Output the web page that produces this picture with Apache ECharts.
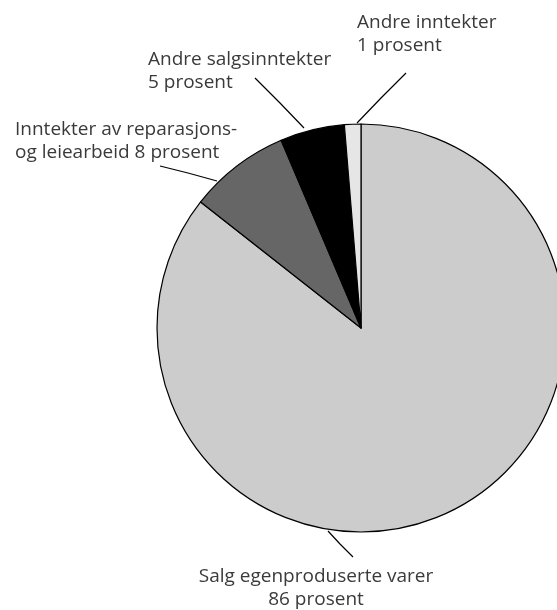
<!DOCTYPE html>
<html>
<head>
<meta charset="utf-8">
<script src="https://cdn.jsdelivr.net/npm/echarts@6/dist/echarts.min.js"></script>
<style>
html,body{margin:0;padding:0;background:#fff;}
#chart{width:557px;height:610px;}
</style>
</head>
<body>
<div id="chart"></div>
<script>
// Data (clockwise from 12 o'clock)
const categories = [
  'Salg egenproduserte varer\n86 prosent',
  'Inntekter av reparasjons-\nog leiearbeid 8 prosent',
  'Andre salgsinntekter\n5 prosent',
  'Andre inntekter\n1 prosent'
];
const values = [85.6, 8.0, 5.1, 1.3];
const colors = ['#cccccc', '#666666', '#000000', '#e6e6e6'];

// label placement (annotation layout)
const labelPos = [
  {x: 316, y: 588, align: 'center', line: [[328, 531], [340, 544], [353, 557]]},
  {x: 15, y: 141, align: 'left', line: [[217, 181], [188, 173], [160, 166]]},
  {x: 148, y: 71, align: 'left', line: [[304, 128], [280, 103], [255, 78]]},
  {x: 357, y: 34, align: 'left', line: [[357, 123], [381, 98], [406, 73]]}
];

const chart = echarts.init(document.getElementById('chart'), null, {renderer: 'canvas'});
chart.setOption({
  animation: false,
  backgroundColor: '#ffffff',
  series: [{
    type: 'pie',
    center: [361, 328],
    radius: 204,
    startAngle: 90,
    clockwise: true,
    avoidLabelOverlap: false,
    silent: true,
    itemStyle: {borderColor: '#000', borderWidth: 1.2},
    label: {
      show: true,
      position: 'outside',
      fontFamily: 'Open Sans',
      fontWeight: 400,
      fontSize: 19,
      lineHeight: 23,
      color: '#3a3a3a'
    },
    labelLine: {show: true, lineStyle: {color: '#000', width: 1.2}},
    labelLayout: function (p) {
      const lp = labelPos[p.dataIndex];
      return {x: lp.x, y: lp.y, align: lp.align, verticalAlign: 'middle', labelLinePoints: lp.line};
    },
    data: categories.map((c, i) => ({
      name: c,
      value: values[i],
      itemStyle: {color: colors[i]},
      label: {align: labelPos[i].align}
    }))
  }]
});
</script>
</body>
</html>
